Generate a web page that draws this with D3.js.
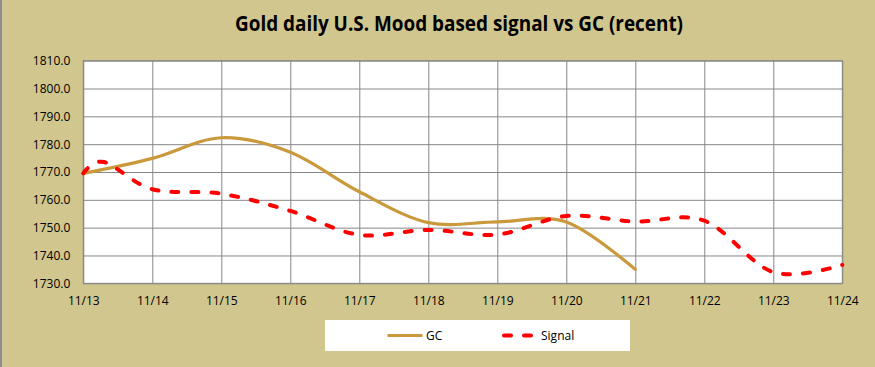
<!DOCTYPE html>
<html>
<head>
<meta charset="utf-8">
<script src="https://cdn.jsdelivr.net/npm/d3@7"></script>
<style>
  html, body { margin: 0; padding: 0; background: #D0C68E; }
  svg { display: block; }
  text { font-family: "Open Sans", "DejaVu Sans", sans-serif; fill: #000; }
</style>
</head>
<body>
<svg id="chart" width="875" height="367"></svg>
<script>
// ---- data ----
const dayLabels = ["11/13","11/14","11/15","11/16","11/17","11/18","11/19","11/20","11/21","11/22","11/23","11/24"];
const dayNumbers = [13,14,15,16,17,18,19,20,21,22,23,24];
const gcDays   = [13, 14, 15, 16, 17, 18, 19, 20, 21];
const gcValues = [1769.5, 1774.9, 1782.3, 1777.1, 1762.9, 1751.8, 1752.1, 1752.0, 1735.0];
const signalDays   = [13, 13.3, 14, 15, 16, 17, 18, 19, 20, 21, 22, 23, 24];
const signalValues = [1769.5, 1773.6, 1763.8, 1762.2, 1756.0, 1747.4, 1749.2, 1747.5, 1754.2, 1752.2, 1752.5, 1734.0, 1736.6];
const yTicks = [1730, 1740, 1750, 1760, 1770, 1780, 1790, 1800, 1810];
const seriesNames = ["GC", "Signal"];
const titleText = "Gold daily U.S. Mood based signal vs GC (recent)";

// ---- layout ----
const W = 875, H = 367;
const plot = { left: 83.3, right: 842.3, top: 60.7, bottom: 283.3 };
const gold = "#C9993B", red = "#FF0000", grid = "#878787";

const svg = d3.select("#chart");

// background + left frame edge
svg.append("rect").attr("x", 0).attr("y", 0).attr("width", W).attr("height", H).attr("fill", "#D0C68E");
svg.append("line").attr("x1", 1).attr("x2", 1).attr("y1", 0).attr("y2", H)
  .attr("stroke", "#8E8E8E").attr("stroke-width", 2);

const x = d3.scaleLinear().domain([13, 24]).range([plot.left, plot.right]);
const y = d3.scaleLinear().domain([1730, 1810]).range([plot.bottom, plot.top]);

// plot area
svg.append("rect")
  .attr("x", plot.left).attr("y", plot.top)
  .attr("width", plot.right - plot.left).attr("height", plot.bottom - plot.top)
  .attr("fill", "#fff");

// horizontal grid
svg.append("g")
  .attr("transform", `translate(${plot.left},0)`)
  .call(d3.axisLeft(y).tickValues(yTicks).tickSize(-(plot.right - plot.left)).tickFormat(""))
  .call(g => g.select(".domain").remove())
  .call(g => g.selectAll("line").attr("stroke", grid).attr("stroke-width", 1));

// vertical grid
svg.append("g")
  .attr("transform", `translate(0,${plot.bottom})`)
  .call(d3.axisBottom(x).tickValues(dayNumbers).tickSize(-(plot.bottom - plot.top)).tickFormat(""))
  .call(g => g.select(".domain").remove())
  .call(g => g.selectAll("line").attr("stroke", grid).attr("stroke-width", 1));

// plot border
svg.append("rect")
  .attr("x", plot.left).attr("y", plot.top)
  .attr("width", plot.right - plot.left).attr("height", plot.bottom - plot.top)
  .attr("fill", "none").attr("stroke", grid).attr("stroke-width", 1);

// y axis labels
svg.append("g")
  .attr("transform", `translate(${plot.left},0)`)
  .call(d3.axisLeft(y).tickValues(yTicks).tickSize(0).tickPadding(13).tickFormat(d3.format(".1f")))
  .call(g => g.select(".domain").remove())
  .call(g => g.selectAll("text").attr("font-family", "Open Sans").attr("font-size", 12).attr("fill", "#000"));

// x axis labels
svg.append("g")
  .attr("transform", `translate(0,${plot.bottom})`)
  .call(d3.axisBottom(x).tickValues(dayNumbers).tickSize(0).tickPadding(13)
        .tickFormat((d, i) => dayLabels[i]))
  .call(g => g.select(".domain").remove())
  .call(g => g.selectAll("text").attr("font-family", "Open Sans").attr("font-size", 12).attr("fill", "#000"));

// lines
const line = d3.line()
  .x(d => x(d[0])).y(d => y(d[1]))
  .curve(d3.curveCardinal.tension(0));

const gcData = gcDays.map((d, i) => [d, gcValues[i]]);
const sigData = signalDays.map((d, i) => [d, signalValues[i]]);

svg.append("path").datum(gcData)
  .attr("d", line)
  .attr("fill", "none").attr("stroke", gold).attr("stroke-width", 3.2)
  .attr("stroke-linecap", "round").attr("stroke-linejoin", "round");

svg.append("path").datum(sigData)
  .attr("d", line)
  .attr("fill", "none").attr("stroke", red).attr("stroke-width", 4)
  .attr("stroke-dasharray", "7,13").attr("stroke-linecap", "round");

// title
svg.append("text")
  .attr("x", 459).attr("y", 31)
  .attr("text-anchor", "middle")
  .attr("font-family", "Open Sans").attr("font-weight", "bold").attr("font-size", 21.5)
  .attr("textLength", 448).attr("lengthAdjust", "spacingAndGlyphs")
  .text(titleText);

// legend
const lg = svg.append("g");
lg.append("rect").attr("x", 325).attr("y", 320).attr("width", 305).attr("height", 31).attr("fill", "#fff");
lg.append("line").attr("x1", 387.5).attr("x2", 422.5).attr("y1", 335.5).attr("y2", 335.5)
  .attr("stroke", gold).attr("stroke-width", 3.2);
lg.append("text").attr("x", 426).attr("y", 339.5).attr("font-size", 12).text(seriesNames[0]);
lg.append("line").attr("x1", 504).attr("x2", 534).attr("y1", 335.5).attr("y2", 335.5)
  .attr("stroke", red).attr("stroke-width", 4)
  .attr("stroke-dasharray", "7,13").attr("stroke-linecap", "round");
lg.append("text").attr("x", 541).attr("y", 339.5).attr("font-size", 12).text(seriesNames[1]);
</script>
</body>
</html>
